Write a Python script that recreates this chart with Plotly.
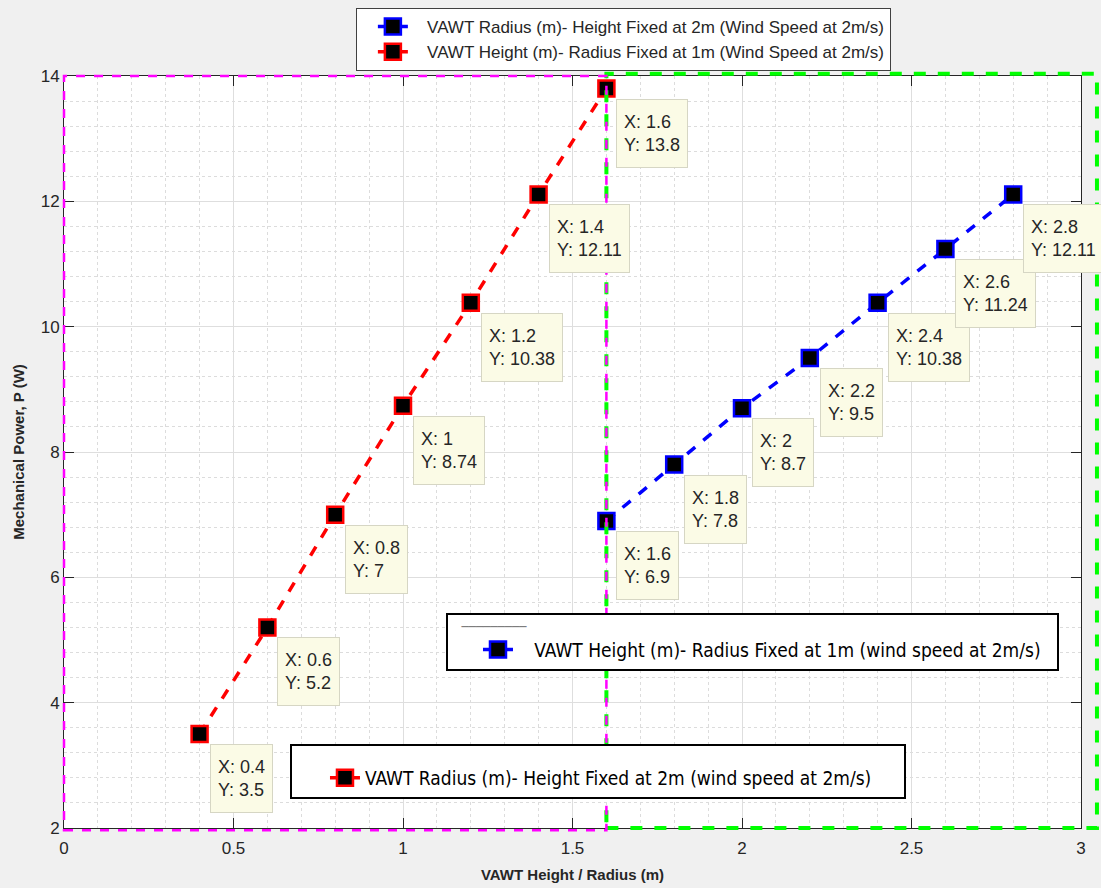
import plotly.graph_objects as go

# ---------------- data ----------------
height_x = [0.4, 0.6, 0.8, 1.0, 1.2, 1.4, 1.6]
height_p = [3.5, 5.2, 7, 8.74, 10.38, 12.11, 13.8]
radius_x = [1.6, 1.8, 2.0, 2.2, 2.4, 2.6, 2.8]
radius_p = [6.9, 7.8, 8.7, 9.5, 10.38, 11.24, 12.11]

name_blue = "VAWT Radius (m)- Height Fixed at 2m (Wind Speed at 2m/s)"
name_red = "VAWT Height (m)- Radius Fixed at 1m (Wind Speed at 2m/s)"
box_blue = "VAWT Height (m)- Radius Fixed at 1m (wind speed at 2m/s)"
box_red = "VAWT Radius (m)- Height Fixed at 2m (wind speed at 2m/s)"

x_ticks = [0, 0.5, 1, 1.5, 2, 2.5, 3]
y_ticks = [2, 4, 6, 8, 10, 12, 14]
x_range = [0, 3]
y_range = [2, 14]
split_x = 1.6

x_title = "VAWT Height / Radius (m)"
y_title = "Mechanical Power, P (W)"

# ---------------- figure ----------------
TXT = "#262626"
FONT = "Liberation Sans, Arial, sans-serif"
NARROW = "Liberation Sans Narrow, DejaVu Sans Condensed, Liberation Sans, sans-serif"
NB = "\u00a0"

fig = go.Figure()

marker_common = dict(symbol="square", size=16, color="black")

fig.add_trace(go.Scatter(
    x=radius_x, y=radius_p, name=NB * 3 + name_blue, mode="lines+markers",
    line=dict(color="#0000ff", width=3.5, dash="dash"),
    marker=dict(**marker_common, line=dict(color="#0000ff", width=2.5)),
    legend="legend", legendgroup="b",
))
fig.add_trace(go.Scatter(
    x=height_x, y=height_p, name=NB * 3 + name_red, mode="lines+markers",
    line=dict(color="#ff0000", width=3.5, dash="dash"),
    marker=dict(**marker_common, line=dict(color="#ff0000", width=2.5)),
    legend="legend", legendgroup="r",
))

# lower "legend boxes"
fig.add_trace(go.Scatter(
    x=[None], y=[None], name=NB * 3 + box_blue + NB * 2, mode="lines+markers",
    line=dict(color="#0000ff", width=3.5, dash="dash"),
    marker=dict(**marker_common, line=dict(color="#0000ff", width=2.5)),
    legend="legend2", showlegend=True,
))
fig.add_trace(go.Scatter(
    x=[None], y=[None], name=box_red + NB * 5, mode="lines+markers",
    line=dict(color="#ff0000", width=3.5, dash="dash"),
    marker=dict(**marker_common, line=dict(color="#ff0000", width=2.5)),
    legend="legend3", showlegend=True,
))

# data tips
def fmt(v):
    return f"{v:g}"

for xs, ys in ((height_x, height_p), (radius_x, radius_p)):
    for xv, yv in zip(xs, ys):
        fig.add_annotation(
            x=xv, y=yv, xref="x", yref="y",
            text=f"X: {fmt(xv)}<br>Y: {fmt(yv)}",
            showarrow=False, xanchor="left", yanchor="top", align="left",
            xshift=10, yshift=-10, height=53,
            font=dict(family=FONT, size=18, color=TXT),
            bgcolor="#fbfbe6", bordercolor="#d6d6c4", borderwidth=1, borderpad=7,
        )

# dashed region boxes (paper coords derived from axis ranges)
def px(v):
    return (v - x_range[0]) / (x_range[1] - x_range[0])

fig.add_shape(type="rect", xref="paper", yref="paper",
              x0=px(split_x), x1=1.0157, y0=0.0, y1=1.003,
              line=dict(color="#00ff00", width=4, dash="dash"), layer="above")
fig.add_shape(type="rect", xref="paper", yref="paper",
              x0=0, x1=px(split_x), y0=-0.003, y1=1.0,
              line=dict(color="#ff00ff", width=2.5, dash="dash"), layer="above")

axis_common = dict(
    showline=True, linecolor=TXT, linewidth=1, mirror="ticks",
    ticks="inside", ticklen=10, tickcolor=TXT,
    showgrid=True, gridcolor="#dedede", gridwidth=1, zeroline=False,
    tickfont=dict(family=FONT, size=17, color=TXT),
)

fig.update_xaxes(
    range=x_range, tickvals=x_ticks, ticktext=[fmt(v) for v in x_ticks],
    title=dict(text=f"<b>{x_title}</b>", font=dict(family=FONT, size=15, color=TXT), standoff=12),
    minor=dict(dtick=0.1, showgrid=True, gridcolor="#dcdcdc", griddash="dot", ticks=""),
    ticklabelstandoff=5,
    **axis_common,
)
fig.update_yaxes(
    range=y_range, tickvals=y_ticks, ticktext=[fmt(v) for v in y_ticks],
    title=dict(text=f"<b>{y_title}</b>", font=dict(family=FONT, size=15, color=TXT), standoff=12),
    minor=dict(dtick=0.4, tick0=2, showgrid=True, gridcolor="#dcdcdc", griddash="dot", ticks=""),
    **axis_common,
)

fig.update_layout(
    width=1101, height=888,
    margin=dict(l=64, r=20, t=76, b=60, autoexpand=False),
    paper_bgcolor="#f0f0f0", plot_bgcolor="white",
    font=dict(family=FONT, color=TXT),
    legend=dict(
        x=0.287, y=1.0904, xanchor="left", yanchor="top",
        bgcolor="white", bordercolor="#404040", borderwidth=1,
        font=dict(family=FONT, size=17, color=TXT),
        traceorder="grouped", tracegroupgap=0, indentation=16,
    ),
    legend2=dict(
        x=0.3756, y=0.2859, xanchor="left", yanchor="top",
        bgcolor="white", bordercolor="black", borderwidth=2,
        font=dict(family=NARROW, size=19, color="black"),
        title=dict(text=NB * 3 + "\u2500" * 9, font=dict(family="DejaVu Sans", size=12, color="#707070")),
        indentation=30,
    ),
    legend3=dict(
        x=0.2222, y=0.1117, xanchor="left", yanchor="top",
        bgcolor="white", bordercolor="black", borderwidth=2,
        font=dict(family=NARROW, size=19, color="black"),
        title=dict(text=NB, font=dict(size=10)),
        indentation=33,
    ),
)

fig.write_html("out.html", config={"displayModeBar": False},
               post_script="document.body.style.margin='0';")
